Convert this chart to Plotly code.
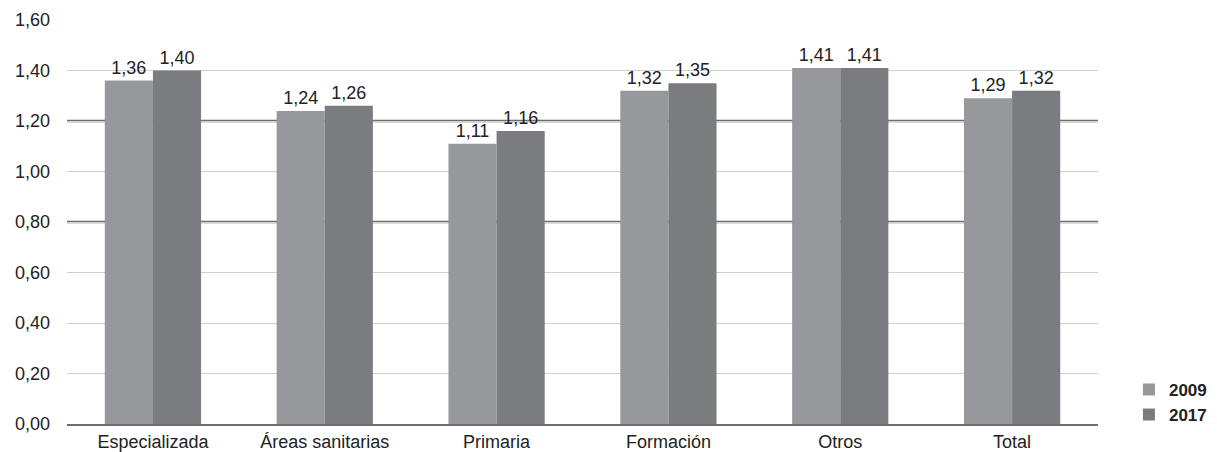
import plotly.graph_objects as go

categories = ["Especializada", "Áreas sanitarias", "Primaria", "Formación", "Otros", "Total"]
values_2009 = [1.36, 1.24, 1.11, 1.32, 1.41, 1.29]
values_2017 = [1.40, 1.26, 1.16, 1.35, 1.41, 1.32]
series_names = ["2009", "2017"]
y_ticks = [0.0, 0.2, 0.4, 0.6, 0.8, 1.0, 1.2, 1.4, 1.6]
emphasized_grid = [0.8, 1.2]

def fmt(v):
    return f"{v:.2f}".replace(".", ",")

font = "Liberation Sans, Arial, sans-serif"
fig = go.Figure()
for name, vals, col in [(series_names[0], values_2009, "#97989c"), (series_names[1], values_2017, "#7b7c80")]:
    fig.add_trace(go.Bar(
        x=categories, y=vals, name=name, marker_color=col,
        marker_line_width=0,
        text=[fmt(v) for v in vals], textposition="outside",
        textfont=dict(size=18, color="#222222", family=font),
        cliponaxis=False,
    ))

for yv in emphasized_grid:
    fig.add_shape(type="line", xref="paper", x0=0, x1=1, yref="y", y0=yv, y1=yv,
                  line=dict(color="#6e6e72", width=2.5), layer="below")

# page body has an 8px margin, so the figure is sized to fit the window
fig.update_layout(
    width=1209, height=444,
    margin=dict(l=59, r=119, t=12, b=28, autoexpand=False),
    paper_bgcolor="white", plot_bgcolor="white",
    barmode="group", bargap=0.44, bargroupgap=0,
    font=dict(family=font, size=18, color="#222222"),
    legend=dict(x=1.03, y=-0.022, xanchor="left", yanchor="bottom",
                font=dict(size=17, color="#222222", family=font, weight="bold"),
                tracegroupgap=0, itemwidth=30),
    showlegend=True,
)
fig.update_xaxes(showline=True, linecolor="#6e6e72", linewidth=2, ticks="",
                 tickfont=dict(size=18), ticklabelstandoff=0, automargin=False)
fig.update_yaxes(range=[0, 1.6], tickvals=y_ticks, ticktext=[fmt(v) for v in y_ticks],
                 showgrid=True, gridcolor="#d0d0d0", gridwidth=1.2, zeroline=False,
                 tickfont=dict(size=18), ticklabelstandoff=16, automargin=False)

fig.write_html("out.html")
